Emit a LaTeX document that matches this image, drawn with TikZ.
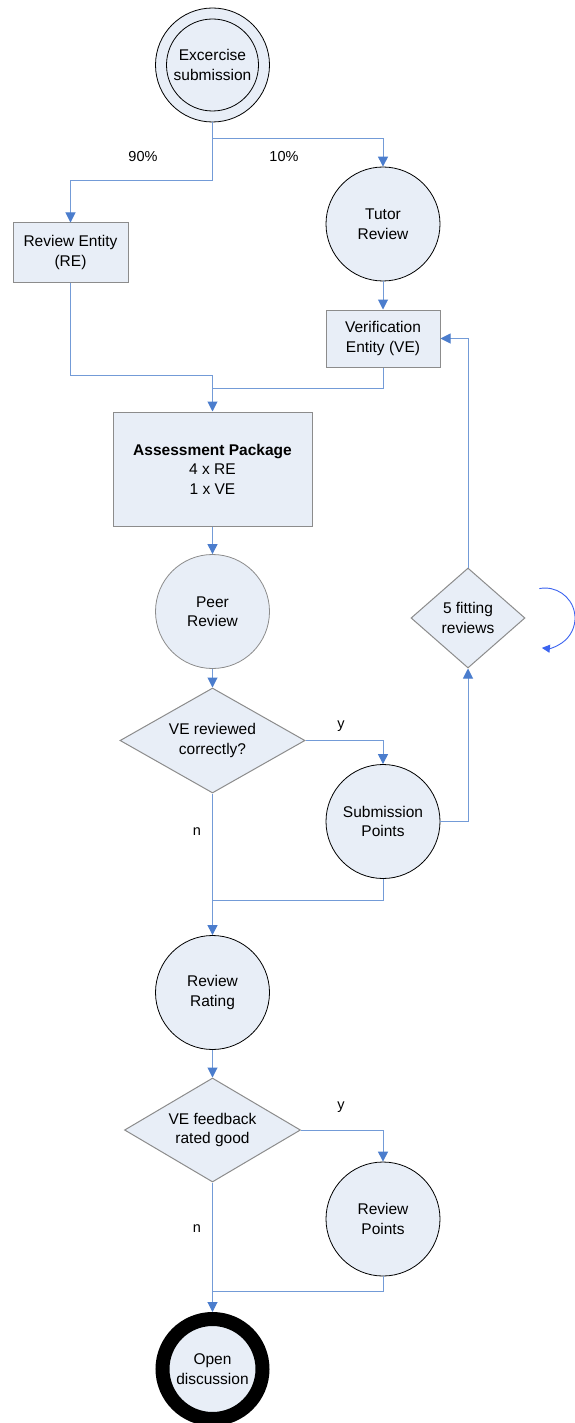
\documentclass[tikz,border=0pt]{standalone}
\usepackage{fontspec}
\setmainfont{Liberation Sans}
\usetikzlibrary{shapes.geometric,arrows.meta}
\definecolor{nodefill}{RGB}{232,238,247}
\definecolor{wire}{RGB}{115,155,215}
\definecolor{tip}{RGB}{75,125,205}
\definecolor{edgegray}{RGB}{140,140,140}
\definecolor{loopblue}{RGB}{60,100,240}

\begin{document}
\begin{tikzpicture}[x=1pt,y=-1pt,
  every node/.style={font=\fontsize{15.5}{19.5}\selectfont, align=center, inner sep=0pt},
  stepcircle/.style={circle, draw=black, fill=nodefill, minimum size=114pt, line width=0.8pt},
  graycircle/.style={stepcircle, draw=edgegray},
  box/.style={rectangle, draw=edgegray, fill=nodefill, line width=1pt},
  decision/.style={diamond, draw=edgegray, fill=nodefill, line width=1pt},
  conn/.style={draw=wire, line width=1pt},
  arr/.style={conn, -{Triangle[length=10pt,width=10pt,color=tip]}},
  lbl/.style={font=\fontsize{14.5}{17}\selectfont}
]
\useasboundingbox[fill=white] (0,0) rectangle (574,1423);

% start: double circle
\node[stepcircle] (ex) at (212.5,65) {};
\node[circle, draw=black, fill=nodefill, minimum size=92pt, line width=0.8pt] (exin) at (ex) {Excercise\\submission};

\node[stepcircle] (tutor) at (383,224) {Tutor\\Review};
\node[box, minimum width=115pt, minimum height=59pt] (re) at (70.5,252.5) {Review Entity\\(RE)};
\node[box, minimum width=114pt, minimum height=57pt] (ve) at (383,338.5) {Verification\\Entity (VE)};
\node[box, minimum width=199pt, minimum height=114pt] (ap) at (212.5,469) {\textbf{Assessment Package}\\4 x RE\\1 x VE};
\node[graycircle] (peer) at (212.5,611.5) {Peer\\Review};
\node[decision, aspect=1.14, minimum width=114pt, minimum height=100pt] (fit) at (468,618) {5 fitting\\reviews};
\node[decision, aspect=1.76, minimum width=185pt, minimum height=105pt] (q1) at (212.5,740.5) {VE reviewed\\correctly?};
\node[stepcircle] (sp) at (383,821.5) {Submission\\Points};
\node[stepcircle] (rr) at (212.5,992.5) {Review\\Rating};
\node[decision, aspect=1.7, minimum width=176pt, minimum height=104pt] (q2) at (212.5,1130) {VE feedback\\rated good};
\node[stepcircle] (rp) at (383,1219) {Review\\Points};
\node[circle, draw=black, line width=14pt, fill=nodefill, minimum size=100pt] (od) at (212.5,1369) {Open\\discussion};

% branch labels
\node[lbl] (p90) at (143,157) {90\%};
\node[lbl] (p10) at (284,157) {10\%};
\node[lbl] (y1) at (341,726) {y};
\node[lbl] (n1) at (197,832) {n};
\node[lbl] (y2) at (341,1107) {y};
\node[lbl] (n2) at (197,1229) {n};

% junction points where branches merge
\coordinate (j1) at (212.5,375);
\coordinate (j2) at (212.5,388);
\coordinate (j3) at (212.5,900);
\coordinate (j4) at (212.5,1291);

% connectors
\draw[arr] (ex.south) -- ++(0,16) -| (tutor.north);
\draw[arr] (ex.south) -- ++(0,58) -| (re.north);
\draw[arr] (tutor.south) -- (ve.north);
\draw[conn] (re.south) |- (j1);
\draw[conn] (ve.south) |- (j2);
\draw[arr] (j1) -- (ap.north);
\draw[arr] (fit.north) |- (ve.east);
\draw[arr] (ap.south) -- (peer.north);
\draw[arr] (peer.south) -- (q1.north);
\draw[arr] (q1.east) -| (sp.north);
\draw[arr] (sp.east) -| (fit.south);
\draw[conn] (sp.south) |- (j3);
\draw[arr] (q1.south) -- (rr.north);
\draw[arr] (rr.south) -- (q2.north);
\draw[arr] (q2.east) -| (rp.north);
\draw[conn] (rp.south) |- (j4);
\draw[arr] (q2.south) -- (od.north);

% repeat loop beside the decision
\coordinate (loopa) at (539.3,588.6);
\draw[loopblue, line width=0.9pt, -{Triangle[length=8pt,width=8pt]}]
  (loopa) arc[start angle=-101, end angle=96, radius=30];
\end{tikzpicture}
\end{document}
